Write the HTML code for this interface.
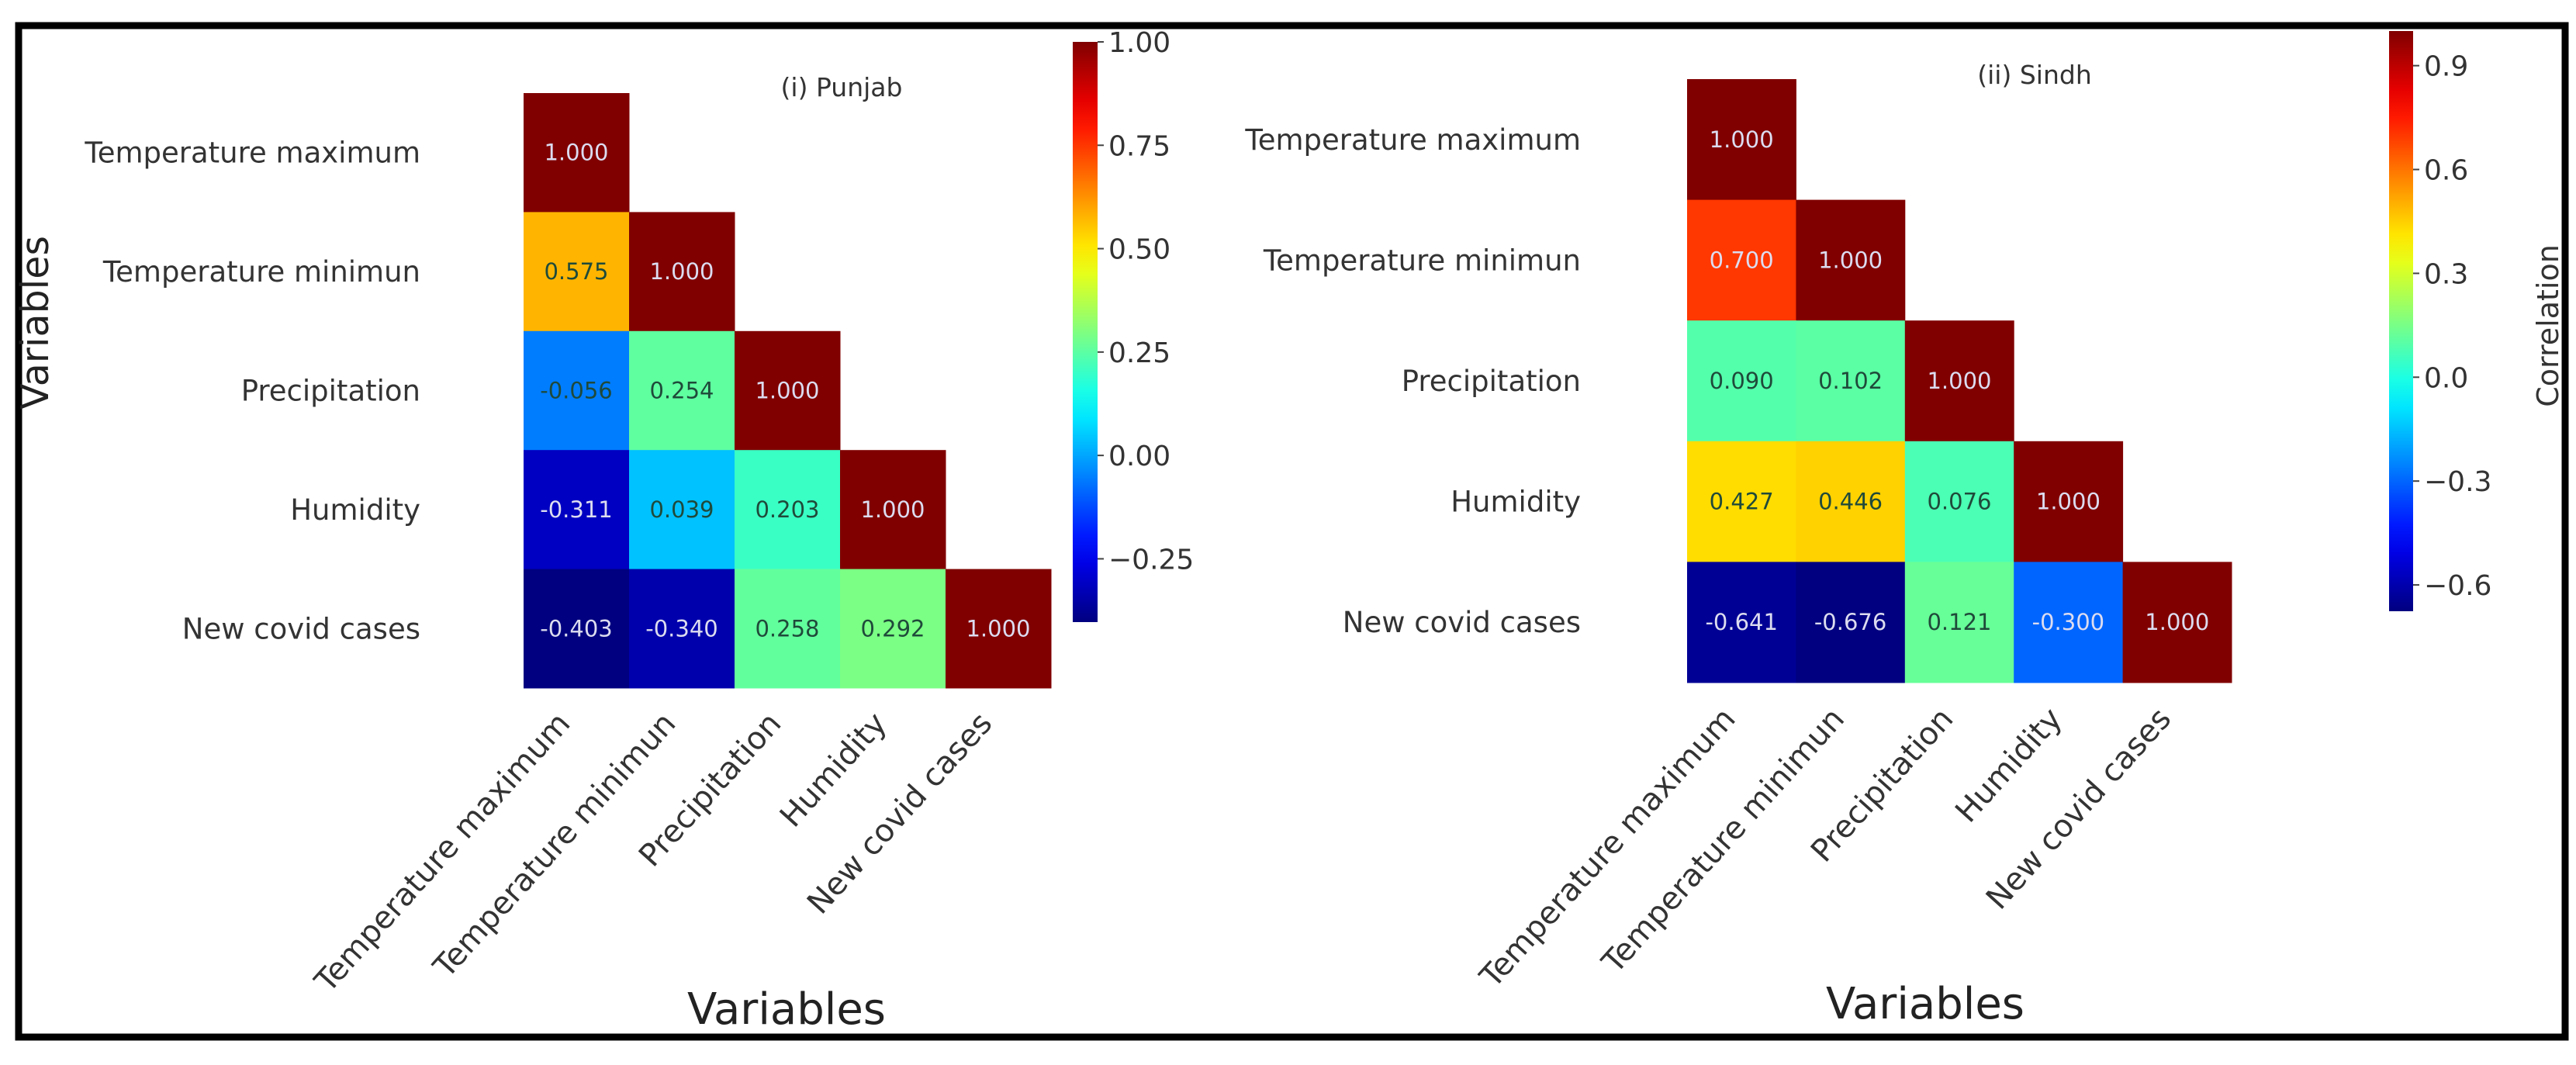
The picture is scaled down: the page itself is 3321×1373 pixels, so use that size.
<!DOCTYPE html>
<html><head><meta charset="utf-8">
<style>
html,body{margin:0;padding:0;background:#fff;}
svg{display:block;font-family:"DejaVu Sans","Liberation Sans",sans-serif;}
</style></head>
<body>
<svg id="chart" xmlns="http://www.w3.org/2000/svg" width="3321" height="1373" viewBox="0 0 3321 1373">
<rect x="0" y="0" width="3321" height="1373" fill="#fff"/>
<rect x="24" y="33" width="3283" height="1304" fill="none" stroke="#000" stroke-width="9"/>
<g id="p1"></g><g id="p2"></g>
<text transform="translate(62,416) rotate(-90)" text-anchor="middle" font-size="49" fill="#222">Variables</text>
</svg>
<script>
const variables = ["Temperature maximum","Temperature minimun","Precipitation","Humidity","New covid cases"];
const punjabValues = [
 [1.000],
 [0.575,1.000],
 [-0.056,0.254,1.000],
 [-0.311,0.039,0.203,1.000],
 [-0.403,-0.340,0.258,0.292,1.000]
];
const sindhValues = [
 [1.000],
 [0.700,1.000],
 [0.090,0.102,1.000],
 [0.427,0.446,0.076,1.000],
 [-0.641,-0.676,0.121,-0.300,1.000]
];
const punjabTicks = [1.00,0.75,0.50,0.25,0.00,-0.25];
const sindhTicks = [0.9,0.6,0.3,0.0,-0.3,-0.6];

const NS="http://www.w3.org/2000/svg";
function el(tag,attrs,parent,txt){const e=document.createElementNS(NS,tag);for(const k in attrs)e.setAttribute(k,attrs[k]);if(txt!==undefined)e.textContent=txt;parent.appendChild(e);return e;}
function jet(t){t=Math.max(0,Math.min(1,t));
 const r=Math.max(0,Math.min(1,Math.min(4*t-1.5,-4*t+4.5)));
 const g=Math.max(0,Math.min(1,Math.min(4*t-0.5,-4*t+3.5)));
 const b=Math.max(0,Math.min(1,Math.min(4*t+0.5,-4*t+2.5)));
 return [r,g,b];}
function rgb(c){return "rgb("+c.map(v=>Math.round(v*255)).join(",")+")";}
function lum(c){return 0.2126*c[0]+0.7152*c[1]+0.0722*c[2];}

function panel(g,cfg,values,ticks){
 let mn=Infinity,mx=-Infinity;values.forEach(r=>r.forEach(v=>{mn=Math.min(mn,v);mx=Math.max(mx,v);}));
 const norm=v=>(v-mn)/(mx-mn);
 const xS=i=>cfg.x0+i*cfg.cw, yS=i=>cfg.y0+i*cfg.ch;
 values.forEach((row,i)=>row.forEach((v,j)=>{
  const c=jet(norm(v));
  const r=el("rect",{x:xS(j),y:yS(i),width:cfg.cw+0.5,height:cfg.ch+0.5,fill:rgb(c)},g);
  
  
  const t=el("text",{x:xS(j)+cfg.cw/2,y:yS(i)+cfg.ch/2+10,"text-anchor":"middle","font-size":29,fill:lum(c)>0.408?"#1f4a3a":"#dcdcf0"},g,v.toFixed(3));
  
  
 }));
 variables.forEach((name,i)=>{
  const t=el("text",{x:cfg.ylabX,y:yS(i)+cfg.ch/2+13,"text-anchor":"end","font-size":37,fill:"#333"},g,name);
  
  
  const cx=xS(i)+cfg.cw/2-6, ty=cfg.xlabY;
  const t2=el("text",{transform:"translate("+cx+","+ty+") rotate(-48)","text-anchor":"end","font-size":40,fill:"#333"},g,name);
  
  
 });
 const cb=cfg.cb; const yv=v=>cb.top+(mx-v)/(mx-mn)*(cb.bot-cb.top);
 const defs=el("defs",{},g);
 const grad=el("linearGradient",{id:cfg.id+"g",x1:0,y1:0,x2:0,y2:1},defs);
 for(let k=0;k<=20;k++){el("stop",{offset:k/20,"stop-color":rgb(jet(1-k/20))},grad);}
 const bar=el("rect",{x:cb.x,y:cb.top,width:cb.w,height:cb.bot-cb.top,fill:"url(#"+cfg.id+"g)"},g);
 
 
 ticks.forEach(v=>{
  const y=yv(v);
  el("line",{x1:cb.x+cb.w,x2:cb.x+cb.w+8,y1:y,y2:y,stroke:"#444","stroke-width":2},g);
  const t=el("text",{x:cb.x+cb.w+14,y:y+13,"font-size":36,fill:"#333"},g,(v<0?"\u2212":"")+Math.abs(v).toFixed(cfg.dec));
  
  
 });
 const ti=el("text",{x:cfg.titleX,y:cfg.titleY,"text-anchor":"middle","font-size":33,fill:"#333"},g,cfg.title);
 
 
 const xl=el("text",{x:cfg.xtX,y:cfg.xtY,"text-anchor":"middle","font-size":56,fill:"#222"},g,"Variables");
 
 
}
panel(document.getElementById("p1"),{id:"pj",x0:675,y0:120,cw:136,ch:153.4,ylabX:542,xlabY:934,
 cb:{x:1383,w:32,top:54,bot:802},dec:2,title:"(i) Punjab",titleX:1085,titleY:124,xtX:1014,xtY:1320},punjabValues,punjabTicks);
panel(document.getElementById("p2"),{id:"sd",x0:2175,y0:102,cw:140.4,ch:155.6,ylabX:2038,xlabY:928,
 cb:{x:3080,w:31,top:40,bot:788},dec:1,title:"(ii) Sindh",titleX:2623,titleY:108,xtX:2482,xtY:1313},sindhValues,sindhTicks);
const cl=el("text",{transform:"translate(3298,420) rotate(-90)","text-anchor":"middle","font-size":38,fill:"#333"},document.getElementById("p2"),"Correlation");


</script>
</body></html>
